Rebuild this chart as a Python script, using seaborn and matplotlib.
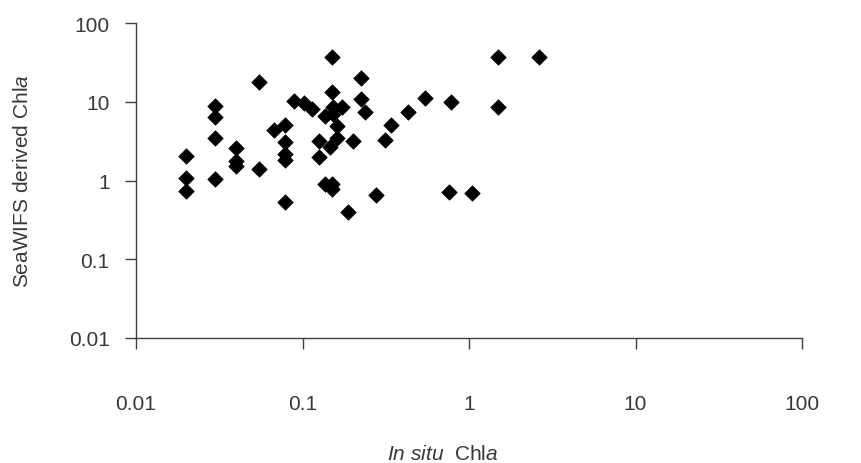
# log-log scatter: in situ vs SeaWiFS chlorophyll
import seaborn as sns
import matplotlib.pyplot as plt
import pandas as pd

in_situ = [0.02, 0.02, 0.02, 0.03, 0.03, 0.03, 0.03, 0.04, 0.04, 0.04,
           0.055, 0.055, 0.067, 0.078, 0.078, 0.078, 0.078, 0.078, 0.089, 0.102,
           0.114, 0.126, 0.126, 0.136, 0.150, 0.150, 0.153, 0.172, 0.153, 0.160,
           0.160, 0.146, 0.202, 0.224, 0.224, 0.237, 0.136, 0.150, 0.150, 0.187,
           0.275, 0.313, 0.339, 0.429, 0.545, 0.78, 0.76, 1.04, 1.50, 2.64, 1.50]
seawifs = [2.04, 1.09, 0.74, 8.98, 6.39, 3.46, 1.05, 2.58, 1.80, 1.52,
           17.8, 1.41, 4.41, 5.10, 3.06, 2.18, 1.85, 0.53, 10.4, 9.7,
           8.15, 3.22, 1.98, 6.70, 37.6, 13.3, 8.57, 8.57, 7.04, 5.0,
           3.49, 2.66, 3.22, 20.2, 10.9, 7.40, 0.91, 0.91, 0.785, 0.404,
           0.664, 3.29, 5.15, 7.40, 11.1, 10.1, 0.713, 0.69, 37.6, 37.6, 8.57]

ticks = [0.01, 0.1, 1, 10, 100]
tick_labels = ["0.01", "0.1", "1", "10", "100"]

df = pd.DataFrame({"in_situ": in_situ, "seawifs": seawifs})

sns.set_style("white")
plt.rcParams["font.family"] = ["Liberation Sans", "DejaVu Sans"]
plt.rcParams["mathtext.fontset"] = "custom"
plt.rcParams["mathtext.rm"] = "Liberation Sans"
plt.rcParams["mathtext.it"] = "Liberation Sans:italic"

grey = "#383838"
fig = plt.figure(figsize=(8.62, 4.64), dpi=100)
ax = fig.add_axes([0.1578, 0.2694, 0.7726, 0.6782])

sns.scatterplot(data=df, x="in_situ", y="seawifs", marker="D", color="black",
                s=62, edgecolor="black", linewidth=0.5, ax=ax, zorder=3)

ax.set_xscale("log")
ax.set_yscale("log")
ax.set_xlim(0.01, 100)
ax.set_ylim(0.01, 100)
ax.set_xticks(ticks)
ax.set_xticklabels(tick_labels)
ax.set_yticks(ticks)
ax.set_yticklabels(tick_labels)
ax.minorticks_off()

for side in ["top", "right"]:
    ax.spines[side].set_visible(False)
for side in ["left", "bottom"]:
    ax.spines[side].set_color("#404040")
    ax.spines[side].set_linewidth(1)

ax.tick_params(axis="both", direction="out", length=8, width=1, color="#404040",
               labelsize=15, labelcolor=grey, bottom=True, left=True)
ax.tick_params(axis="x", pad=32)
ax.tick_params(axis="y", pad=11)

ax.set_ylabel("SeaWIFS derived Chl$\\it{a}$", fontsize=15, color=grey)
ax.yaxis.label.set_verticalalignment("center")
ax.yaxis.set_label_coords(-0.17, 0.5)
ax.set_xlabel("$\\it{In\\ situ}$  Chl$\\it{a}$", fontsize=15, color=grey)
ax.xaxis.label.set_verticalalignment("center")
ax.xaxis.set_label_coords(0.461, -0.3686)

plt.savefig("out.png", dpi=100)
